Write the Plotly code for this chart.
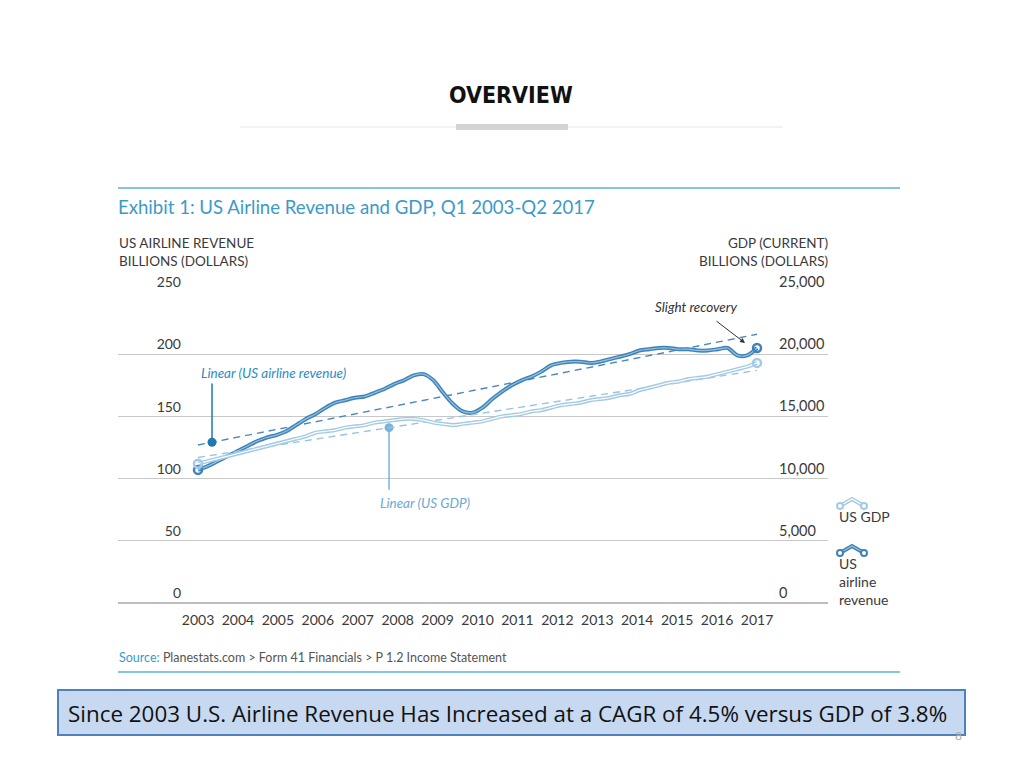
import numpy as np
import plotly.graph_objects as go

# ---------------- data ----------------
years = [str(y) for y in range(2003, 2018)]
quarter_idx = list(range(58))  # Q1 2003 .. Q2 2017

revenue = [107, 110, 114, 118, 122, 126, 130, 133, 135, 138,
           143, 148, 152, 157, 161, 163, 165, 166, 169, 172,
           176, 179, 183, 184, 179, 169, 160, 154, 153, 157,
           164, 170, 175, 179, 182, 186, 191, 193, 194, 194,
           193, 194, 196, 198, 200, 203, 204, 205, 205, 204,
           204, 203, 203, 204, 205, 199, 199, 205]

gdp = [11200, 11400, 11600, 11800, 12000, 12200, 12400, 12600, 12800, 13000,
       13200, 13400, 13700, 13800, 13900, 14100, 14200, 14300, 14500, 14600,
       14700, 14800, 14800, 14700, 14500, 14400, 14300, 14400, 14500, 14600,
       14800, 15000, 15100, 15200, 15400, 15500, 15700, 15900, 16000, 16100,
       16300, 16400, 16500, 16700, 16800, 17100, 17300, 17500, 17700, 17800,
       18000, 18100, 18200, 18400, 18600, 18800, 19000, 19300]

trend_x = [0, 57]
trend_revenue = [127, 216]
trend_gdp = [11700, 18700]

left_ticks = [0, 50, 100, 150, 200, 250]
right_ticks = [0, 5000, 10000, 15000, 20000, 25000]
right_labels = ["0", "5,000", "10,000", "15,000", "20,000", "25,000"]

# ---------------- geometry helpers (pixels -> paper) ----------------
OFF = 8                      # default page body margin
W, H = 1024 - 2 * OFF, 768 - 2 * OFF
L, R, T, B = 118, 828, 292, 603
def px(x):
    return (x - L) / (R - L)
def py(y):
    return (B - y) / (B - T)

REV_DARK = "#3f82b8"
REV_LIGHT = "#8fc0e2"
GDP_DARK = "#a3cae4"
GDP_LIGHT = "#ffffff"
TXT = "#3a3a3a"
BLUE_TXT = "#3c9ac8"
FONT = "Lato, 'Open Sans', sans-serif"

fig = go.Figure()

# trend lines
fig.add_trace(go.Scatter(x=trend_x, y=trend_revenue, mode="lines",
                         line=dict(color="#4a89b8", width=1.4, dash="7px,5px"),
                         hoverinfo="skip", showlegend=False))
fig.add_trace(go.Scatter(x=trend_x, y=trend_gdp, mode="lines", yaxis="y2",
                         line=dict(color="#9cc3dd", width=1.4, dash="7px,5px"),
                         hoverinfo="skip", showlegend=False))

# GDP double line
fig.add_trace(go.Scatter(x=quarter_idx, y=gdp, mode="lines", yaxis="y2",
                         line=dict(color=GDP_DARK, width=4, shape="spline", smoothing=0.8),
                         showlegend=False))
fig.add_trace(go.Scatter(x=quarter_idx, y=gdp, mode="lines", yaxis="y2",
                         line=dict(color=GDP_LIGHT, width=1.2, shape="spline", smoothing=0.8),
                         showlegend=False))
fig.add_trace(go.Scatter(x=[quarter_idx[0], quarter_idx[-1]], y=[gdp[0], gdp[-1]],
                         mode="markers", yaxis="y2",
                         marker=dict(symbol="circle-open", size=8, color=GDP_DARK,
                                     line=dict(width=2.5, color=GDP_DARK)),
                         showlegend=False))

# Revenue double line
fig.add_trace(go.Scatter(x=quarter_idx, y=revenue, mode="lines",
                         line=dict(color=REV_DARK, width=4, shape="spline", smoothing=0.8),
                         showlegend=False))
fig.add_trace(go.Scatter(x=quarter_idx, y=revenue, mode="lines",
                         line=dict(color=REV_LIGHT, width=1.2, shape="spline", smoothing=0.8),
                         showlegend=False))
fig.add_trace(go.Scatter(x=[quarter_idx[0], quarter_idx[-1]], y=[revenue[0], revenue[-1]],
                         mode="markers",
                         marker=dict(symbol="circle-open", size=8, color=REV_DARK,
                                     line=dict(width=2.5, color=REV_DARK)),
                         showlegend=False))

# callout connectors and dots
rev_call_x = 1.43
rev_call_y = np.interp(rev_call_x, trend_x, trend_revenue)
fig.add_trace(go.Scatter(x=[rev_call_x, rev_call_x], y=[rev_call_y, 176.5], mode="lines",
                         line=dict(color="#1f78b0", width=1.5), showlegend=False))
fig.add_trace(go.Scatter(x=[rev_call_x], y=[rev_call_y], mode="markers",
                         marker=dict(color="#1f78b0", size=9), showlegend=False))

gdp_call_x = 19.48
gdp_call_y = np.interp(gdp_call_x, trend_x, trend_gdp) / 100
fig.add_trace(go.Scatter(x=[gdp_call_x, gdp_call_x], y=[gdp_call_y, 91], mode="lines",
                         line=dict(color="#7ab3d8", width=1.5), showlegend=False))
fig.add_trace(go.Scatter(x=[gdp_call_x], y=[gdp_call_y], mode="markers",
                         marker=dict(color="#7ab3d8", size=9), showlegend=False))

# x range so that idx 0 -> 198px and idx 57 -> 757px
ppq = (757 - 198) / 57
xr = [0 - (198 - L) / ppq, 57 + (R - 757) / ppq]

ml, mt = L - OFF, T - OFF
mr = W - ml - (R - L)
mb = H - mt - (B - T)

fig.update_layout(
    width=W, height=H,
    margin=dict(l=ml, r=mr, t=mt, b=mb, pad=0),
    paper_bgcolor="white", plot_bgcolor="white",
    font=dict(family=FONT, color=TXT, size=13),
    showlegend=False,
    xaxis=dict(range=xr, showgrid=False, zeroline=False, showline=False,
               tickvals=list(np.linspace(0, 57, len(years))), ticktext=years,
               ticks="", tickfont=dict(size=14, color=TXT), ticklabelstandoff=7,
               fixedrange=True),
    yaxis=dict(range=[0, 250], tickvals=left_ticks, showgrid=True,
               gridcolor="#c8c8c8", gridwidth=1, zeroline=True,
               zerolinecolor="#bdbdbd", zerolinewidth=1.5, showline=False,
               anchor="free", position=px(181), side="left",
               ticklabelposition="outside top", ticks="",
               tickfont=dict(size=14, color=TXT)),
    yaxis2=dict(range=[0, 25000], tickvals=right_ticks, ticktext=right_labels,
                overlaying="y", side="right", anchor="free", position=px(778),
                showgrid=False, zeroline=False, showline=False,
                ticklabelposition="outside top", ticks="",
                tickfont=dict(size=14.5, color=TXT)),
)

ann = []
def text(x, y, s, size=13, color=TXT, xanchor="left", yanchor="middle", italic=False, family=FONT, bold=False):
    if italic:
        s = "<i>" + s + "</i>"
    if bold:
        s = "<b>" + s + "</b>"
    ann.append(dict(x=px(x), y=py(y), xref="paper", yref="paper", text=s, showarrow=False,
                    xanchor=xanchor, yanchor=yanchor, align=xanchor if xanchor != "center" else "center",
                    font=dict(size=size, color=color, family=family)))

text(511, 95, "OVERVIEW", size=23, color="#111111", xanchor="center",
     family="'Liberation Sans Narrow', 'DejaVu Sans Condensed', 'Roboto', sans-serif", bold=True)
text(116, 207, "Exhibit 1: US Airline Revenue and GDP, Q1 2003-Q2 2017", size=18.6, color=BLUE_TXT)
text(117, 252, "US AIRLINE REVENUE<br>BILLIONS (DOLLARS)", size=13.5)
text(830, 252, "GDP (CURRENT)<br>BILLIONS (DOLLARS)", size=13.5, xanchor="right")
text(199, 373, "Linear (US airline revenue)", size=13.5, color="#2a8cc4", italic=True)
text(425, 503, "Linear (US GDP)", size=13.5, color="#6aaad4", xanchor="center", italic=True)
text(696, 307, "Slight recovery", size=13.5, color="#333333", xanchor="center", italic=True)
text(837, 516, "US GDP", size=14)
text(837, 581, "US<br>airline<br>revenue", size=14)
text(117, 657, "<span style='color:#3c9ac8'>Source:</span> Planestats.com &gt; Form 41 Financials &gt; P 1.2 Income Statement",
     size=12.5, color="#555555")
text(507, 713, "Since 2003 U.S. Airline Revenue Has Increased at a CAGR of 4.5% versus GDP of 3.8%",
     size=22.4, color="#111111", xanchor="center", family="'Open Sans', 'Noto Sans', sans-serif")
text(958, 735, "8", size=12, color="#aaaaaa", xanchor="center")

# arrow for slight recovery
ann.append(dict(x=px(745), y=py(343), xref="paper", yref="paper", ax=-30, ay=-23,
                axref="pixel", ayref="pixel", showarrow=True, arrowhead=2, arrowsize=1,
                arrowwidth=1, arrowcolor="#333333", text=""))
fig.update_layout(annotations=ann)

shapes = []
def hline(x0, x1, y, color, width):
    shapes.append(dict(type="line", xref="paper", yref="paper", x0=px(x0), x1=px(x1),
                       y0=py(y), y1=py(y), line=dict(color=color, width=width)))

hline(240, 783, 127, "#e6e6e6", 1)
hline(456, 568, 127, "#d4d4d4", 6)
hline(118, 900, 188, "#5fb0d6", 1.5)
hline(118, 900, 672, "#5fb0d6", 1.5)

# legend icons
def icon(y, color, inner):
    path = f"M {px(840)},{py(y+4)} L {px(852)},{py(y-3)} L {px(864)},{py(y+4)}"
    shapes.append(dict(type="path", xref="paper", yref="paper", path=path,
                       line=dict(color=color, width=4)))
    shapes.append(dict(type="path", xref="paper", yref="paper", path=path,
                       line=dict(color=inner, width=1.2)))
    for cx in (840, 864):
        shapes.append(dict(type="circle", xref="paper", yref="paper",
                           x0=px(cx - 3), x1=px(cx + 3), y0=py(y + 4 + 3), y1=py(y + 4 - 3),
                           line=dict(color=color, width=2), fillcolor="white"))

icon(502, GDP_DARK, "white")
icon(549, REV_DARK, REV_LIGHT)

# bottom box
shapes.append(dict(type="rect", xref="paper", yref="paper", x0=px(58), x1=px(965),
                   y0=py(690), y1=py(735), fillcolor="#c6d9f1",
                   line=dict(color="#4f81bd", width=2), layer="below"))
fig.update_layout(shapes=shapes)

fig.write_html("out.html")
